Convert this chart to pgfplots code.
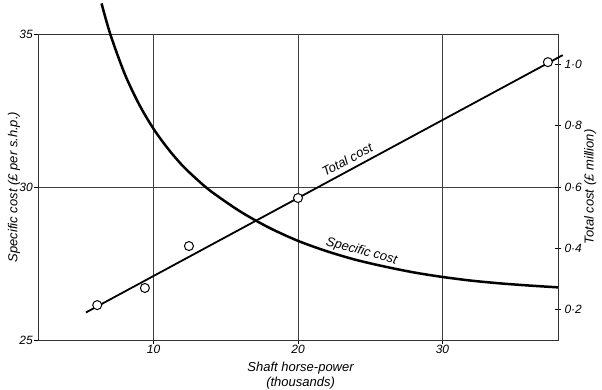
\documentclass[border=0pt]{standalone}
\usepackage{fontspec}
\setmainfont{Liberation Sans}
\usepackage{pgfplots}
\pgfplotsset{compat=1.18}
\begin{document}
\begin{tikzpicture}[font=\itshape]
\path[use as bounding box] (-38pt,-50pt) rectangle (564pt,340pt);
\begin{axis}[
  scale only axis, width=520pt, height=306pt,
  xmin=2, xmax=38, ymin=25, ymax=35,
  xtick={10,20,30}, ytick={25,30,35},
  xtick pos=bottom, ytick pos=left,
  grid=major, grid style={black!75, line width=0.6pt},
  axis line style={black!80, line width=0.7pt},
  tick style={black, line width=0.6pt}, major tick length=4pt, tick align=outside,
  /pgf/number format/assume math mode=true,
  ticklabel style={font=\fontsize{12}{14}\selectfont\itshape},
  xticklabel style={yshift=2pt},
  yticklabel style={inner sep=1pt},
  xlabel={Shaft horse-power\\(thousands)},
  xlabel style={align=center, font=\fontsize{13}{15}\selectfont\itshape, at={(axis description cs:0.505,-0.06)}, anchor=north},
  ylabel={Specific cost (£ per s.h.p.)},
  ylabel style={font=\fontsize{13}{15}\selectfont\itshape, at={(axis description cs:-0.046,0.5)}, anchor=center},
  clip=false,
]
\addplot[black, line width=2.5pt, smooth, tension=0.5] coordinates {
 (6.4,36.0) (7,35.0) (8,33.7) (9,32.7) (10,31.9) (11,31.25) (12,30.7) (13,30.25)
 (14,29.85) (16,29.2) (18,28.67) (20,28.24) (22,27.9) (24,27.62) (26,27.4)
 (28,27.21) (30,27.06) (32,26.94) (34,26.85) (36,26.78) (38,26.72)
};
\node[rotate=-15, font=\fontsize{13}{15}\selectfont\itshape] at (axis cs:24.4,27.9) {Specific cost};
\end{axis}
\begin{axis}[
  scale only axis, width=520pt, height=306pt,
  xmin=2, xmax=38, ymin=0.1, ymax=1.1,
  axis x line=none, axis y line*=right,
  axis line style={black!80, line width=0.7pt},
  ytick={0.2,0.4,0.6,0.8,1.0},
  yticklabels={0·2,0·4,0·6,0·8,1·0},
  tick style={black, line width=0.6pt}, major tick length=6pt, tick align=center,
  ticklabel style={font=\fontsize{12}{14}\selectfont\itshape},
  ylabel={Total cost (£ million)},
  ylabel style={font=\fontsize{13}{15}\selectfont\itshape, at={(axis description cs:1.062,0.5)}, anchor=center},
  clip=false,
]
\addplot[black, line width=1.8pt] coordinates {(5.32,0.19) (38.33,1.031)};
\addplot[only marks, mark=*, mark size=4.5pt, mark options={fill=white, draw=black, line width=1pt}] coordinates {
 (6.1,0.214) (9.4,0.27) (12.45,0.407) (20,0.564) (37.3,1.008)
};
\node[rotate=28, font=\fontsize{13}{15}\selectfont\itshape, anchor=south, inner sep=1pt] at (axis cs:23.6,0.672) {Total cost};
\end{axis}
\end{tikzpicture}
\end{document}
